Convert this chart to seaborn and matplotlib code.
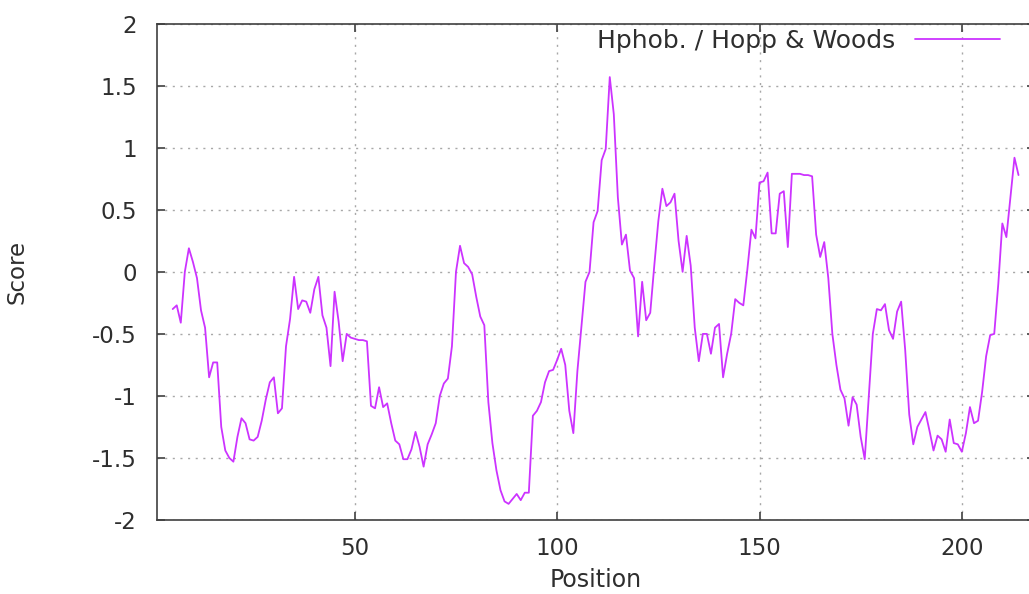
import numpy as np
import pandas as pd
import seaborn as sns
import matplotlib
matplotlib.use("Agg")
import matplotlib.pyplot as plt

# Hopp & Woods hydrophobicity profile, one score per residue position
first_position = 5
scores = [
    -0.30, -0.27, -0.41, 0.00, 0.19, 0.08, -0.05, -0.31, -0.45, -0.85,
    -0.73, -0.73, -1.25, -1.44, -1.50, -1.53, -1.33, -1.18, -1.22, -1.35,
    -1.36, -1.33, -1.20, -1.03, -0.89, -0.85, -1.14, -1.10, -0.60, -0.38,
    -0.04, -0.30, -0.23, -0.24, -0.33, -0.14, -0.04, -0.35, -0.45, -0.76,
    -0.16, -0.40, -0.72, -0.50, -0.53, -0.54, -0.55, -0.55, -0.56, -1.08,
    -1.10, -0.93, -1.09, -1.06, -1.22, -1.36, -1.39, -1.51, -1.51, -1.43,
    -1.29, -1.41, -1.57, -1.39, -1.31, -1.22, -1.00, -0.90, -0.86, -0.60,
    0.00, 0.21, 0.07, 0.04, -0.02, -0.20, -0.36, -0.43, -1.05, -1.38,
    -1.60, -1.76, -1.85, -1.87, -1.83, -1.79, -1.84, -1.78, -1.78, -1.16,
    -1.12, -1.05, -0.89, -0.80, -0.79, -0.71, -0.62, -0.75, -1.12, -1.30,
    -0.80, -0.44, -0.08, 0.00, 0.40, 0.49, 0.90, 0.99, 1.57, 1.27,
    0.60, 0.22, 0.30, 0.01, -0.05, -0.52, -0.08, -0.39, -0.33, 0.05,
    0.41, 0.67, 0.53, 0.56, 0.63, 0.25, 0.00, 0.29, 0.05, -0.45,
    -0.72, -0.50, -0.50, -0.66, -0.45, -0.42, -0.85, -0.66, -0.50, -0.22,
    -0.25, -0.27, 0.02, 0.34, 0.27, 0.72, 0.73, 0.80, 0.31, 0.31,
    0.63, 0.65, 0.20, 0.79, 0.79, 0.79, 0.78, 0.78, 0.77, 0.30,
    0.12, 0.24, -0.05, -0.50, -0.75, -0.95, -1.02, -1.24, -1.01, -1.07,
    -1.33, -1.51, -1.00, -0.50, -0.30, -0.31, -0.26, -0.47, -0.54, -0.32,
    -0.24, -0.63, -1.15, -1.39, -1.25, -1.19, -1.13, -1.28, -1.44, -1.32,
    -1.35, -1.45, -1.19, -1.38, -1.39, -1.45, -1.30, -1.09, -1.22, -1.20,
    -0.97, -0.68, -0.51, -0.50, -0.10, 0.39, 0.28, 0.60, 0.92, 0.78,
]
positions = np.arange(first_position, first_position + len(scores))

series_label = "Hphob. / Hopp & Woods"
x_label = "Position"
y_label = "Score"
x_ticks = [50, 100, 150, 200]
y_ticks = [-2, -1.5, -1, -0.5, 0, 0.5, 1, 1.5, 2]
y_tick_labels = ["-2", "-1.5", "-1", "-0.5", "0", "0.5", "1", "1.5", "2"]

line_color = "#cc33ff"
text_color = "#2e2e2e"

sns.set_style("ticks")
plt.rcParams["font.family"] = ["DejaVu Sans"]

W, H = 1029, 594
fig = plt.figure(figsize=(W / 100, H / 100), dpi=100)
left, right, top, bottom = 156.5, 1034.7, 23.7, 520.0
ax = fig.add_axes([left / W, (H - bottom) / H, (right - left) / W, (bottom - top) / H])

df = pd.DataFrame({"Position": positions, "Score": scores})
sns.lineplot(data=df, x="Position", y="Score", ax=ax, color=line_color,
             linewidth=1.3, label=series_label)

ax.set_xlim(1, 218)
ax.set_ylim(-2, 2)
ax.set_xticks(x_ticks)
ax.set_yticks(y_ticks)
ax.set_yticklabels(y_tick_labels)

ax.set_axisbelow(True)
ax.grid(True, color="#a8a8a8", linestyle=(0, (1.5, 4.0)), linewidth=1.0)

for side in ["left", "bottom", "top", "right"]:
    ax.spines[side].set_color("#404040")
    ax.spines[side].set_linewidth(1.2)

ax.tick_params(axis="both", direction="in", length=6, width=1.2, color="#404040",
               top=True, right=True, labelsize=16.5, labelcolor=text_color)
ax.tick_params(axis="y", pad=14)
ax.tick_params(axis="x", pad=12)

ax.set_xlabel(x_label, fontsize=17, color=text_color, labelpad=6)
ax.set_ylabel(y_label, fontsize=16.5, color=text_color, labelpad=46)

leg = ax.legend(loc="upper right", bbox_to_anchor=(1000 / W, 1 - 29 / H),
                bbox_transform=fig.transFigure, frameon=False, markerfirst=False,
                fontsize=18, handlelength=3.4, handletextpad=0.8,
                borderpad=0, borderaxespad=0)
for t in leg.get_texts():
    t.set_color(text_color)

fig.savefig("out.png", dpi=100)
